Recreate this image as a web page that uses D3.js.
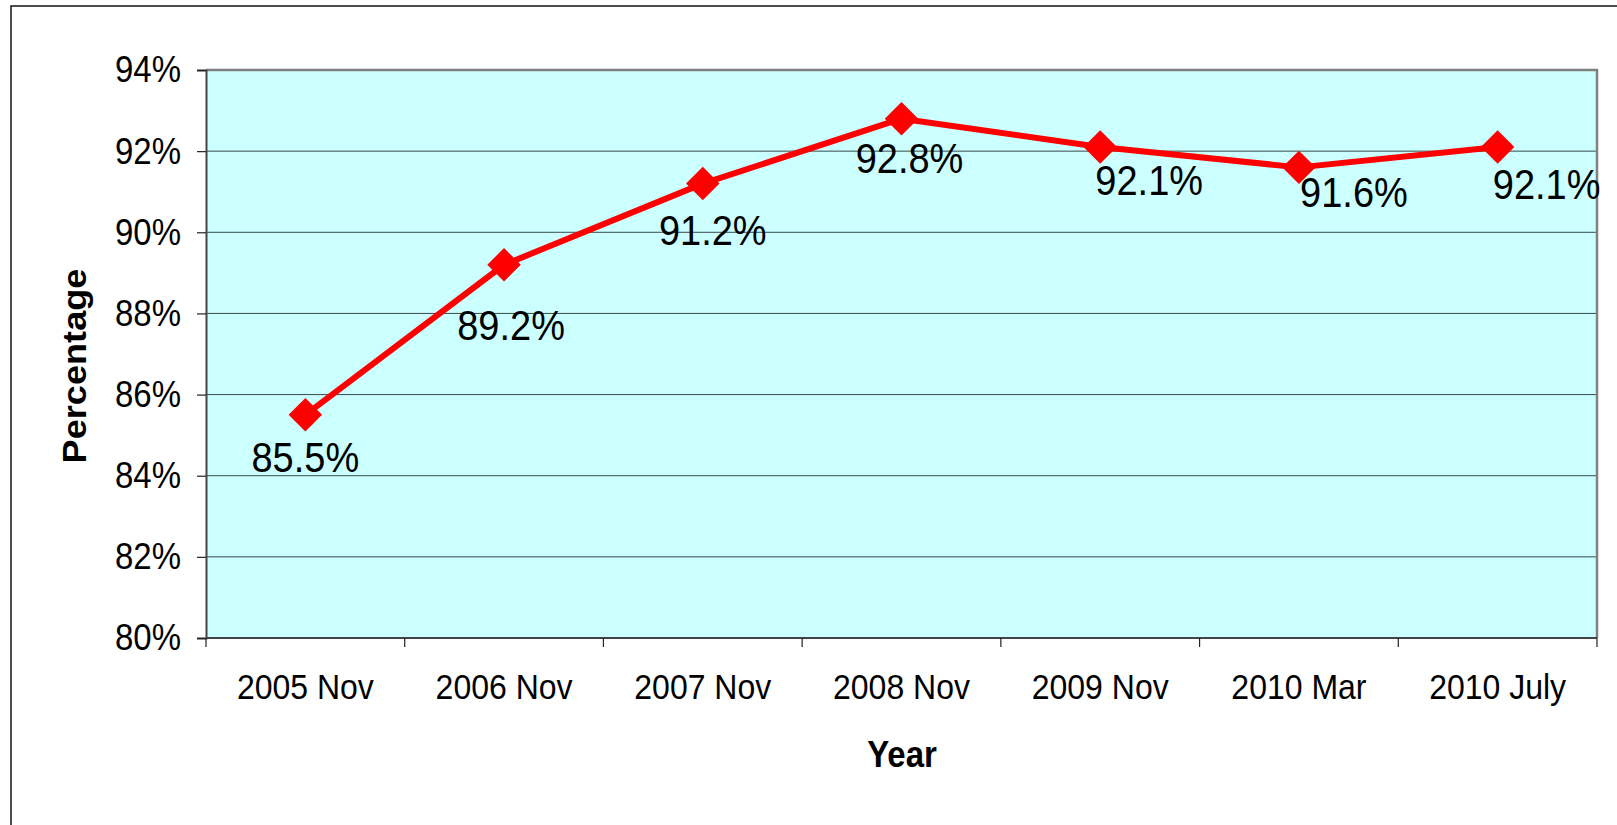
<!DOCTYPE html>
<html>
<head>
<meta charset="utf-8">
<script src="https://cdn.jsdelivr.net/npm/d3@7"></script>
<style>
  html, body { margin: 0; padding: 0; background: #ffffff; }
  svg { display: block; }
  text { font-family: "Liberation Sans", Arial, Helvetica, sans-serif; fill: #000; }
</style>
</head>
<body>
<svg id="chart" width="1617" height="825"></svg>
<script>
// ---- Data ----
const categories = ["2005 Nov", "2006 Nov", "2007 Nov", "2008 Nov", "2009 Nov", "2010 Mar", "2010 July"];
const values = [85.5, 89.2, 91.2, 92.8, 92.1, 91.6, 92.1];
const valueLabels = ["85.5%", "89.2%", "91.2%", "92.8%", "92.1%", "91.6%", "92.1%"];
const yTickValues = [80, 82, 84, 86, 88, 90, 92, 94];
const xTitle = "Year";
const yTitle = "Percentage";

// ---- Label placement (layout, pixels) ----
const labelDx = [0, 7, 10, 8, 49, 55, 49];
const labelDy = [57, 75, 61, 54, 48, 40, 52];

// ---- Layout ----
const plot = { left: 206, right: 1597, top: 70, bottom: 638 };
const TS = 1.1; // vertical stretch of the reference's text
const svg = d3.select("#chart");

// outer frame
svg.append("rect")
  .attr("x", 11).attr("y", 6)
  .attr("width", 1700).attr("height", 900)
  .attr("fill", "#fff").attr("stroke", "#222").attr("stroke-width", 1.6);

const x = d3.scaleBand().domain(categories).range([plot.left, plot.right]).paddingInner(0).paddingOuter(0);
const y = d3.scaleLinear().domain([80, 94]).range([plot.bottom, plot.top]);

// plot background
svg.append("rect")
  .attr("x", plot.left).attr("y", plot.top)
  .attr("width", plot.right - plot.left).attr("height", plot.bottom - plot.top)
  .attr("fill", "#CCFFFF");

// gridlines
svg.append("g").selectAll("line")
  .data(yTickValues.filter(v => v > 80 && v < 94))
  .join("line")
  .attr("x1", plot.left).attr("x2", plot.right)
  .attr("y1", d => y(d)).attr("y2", d => y(d))
  .attr("stroke", "#3a4a4a").attr("stroke-width", 1);

// plot border (top & right gray)
svg.append("path")
  .attr("d", `M${plot.left},${plot.top}H${plot.right}V${plot.bottom}`)
  .attr("fill", "none").attr("stroke", "#808080").attr("stroke-width", 2.5);

// Y axis
const yAxis = d3.axisLeft(y).tickValues(yTickValues).tickSize(9).tickPadding(16)
  .tickFormat(d => d + "%");
const gy = svg.append("g").attr("transform", `translate(${plot.left},0)`).call(yAxis);
gy.select(".domain").attr("stroke", "#444").attr("stroke-width", 2);
gy.selectAll(".tick line").attr("stroke", "#222").attr("stroke-width", 1.2);
gy.selectAll(".tick text")
  .attr("font-size", 33).attr("fill", "#000")
  .attr("font-family", "Liberation Sans, Arial, sans-serif")
  .attr("dy", "0.33em")
  .attr("transform", `scale(1,${TS})`);

// X axis (labels at band centers, ticks at band edges)
const xAxis = d3.axisBottom(x).tickSize(0).tickPadding(0);
const gx = svg.append("g").attr("transform", `translate(0,${plot.bottom})`).call(xAxis);
gx.select(".domain").remove();
gx.selectAll(".tick text")
  .attr("font-size", 32).attr("fill", "#000")
  .attr("font-family", "Liberation Sans, Arial, sans-serif")
  .attr("y", 61 / TS).attr("dy", 0)
  .attr("transform", `scale(1,${TS})`);

const edges = categories.map(c => x(c)).concat([x.range()[1]]);
svg.append("line")
  .attr("x1", plot.left).attr("x2", plot.right)
  .attr("y1", plot.bottom).attr("y2", plot.bottom)
  .attr("stroke", "#444").attr("stroke-width", 2);
svg.append("g").selectAll("line")
  .data(edges)
  .join("line")
  .attr("x1", d => d).attr("x2", d => d)
  .attr("y1", plot.bottom).attr("y2", plot.bottom + 9)
  .attr("stroke", "#222").attr("stroke-width", 1.2);

// Axis titles
svg.append("text")
  .attr("transform", `translate(902,767) scale(1,${TS})`)
  .attr("text-anchor", "middle")
  .attr("font-size", 33).attr("font-weight", "bold")
  .text(xTitle);

svg.append("text")
  .attr("transform", "translate(86,366) rotate(-90) scale(1.095,1)")
  .attr("text-anchor", "middle")
  .attr("font-size", 33).attr("font-weight", "bold")
  .text(yTitle);

// Line
const cx = (d, i) => x(categories[i]) + x.bandwidth() / 2;
const line = d3.line().x((d, i) => cx(d, i)).y(d => y(d));
svg.append("path")
  .datum(values)
  .attr("d", line)
  .attr("fill", "none")
  .attr("stroke", "#FF0000")
  .attr("stroke-width", 6)
  .attr("stroke-linejoin", "round");

// Markers (diamonds)
const diamond = d3.symbol().type(d3.symbolSquare).size(560);
svg.append("g").selectAll("path")
  .data(values)
  .join("path")
  .attr("d", diamond)
  .attr("transform", (d, i) => `translate(${cx(d, i)},${y(d)}) rotate(45)`)
  .attr("fill", "#FF0000");

// Data labels
svg.append("g").selectAll("text")
  .data(values)
  .join("text")
  .attr("transform", (d, i) => `translate(${cx(d, i) + labelDx[i]},${y(d) + labelDy[i]}) scale(1,${TS})`)
  .attr("text-anchor", "middle")
  .attr("font-size", 38)
  .text((d, i) => valueLabels[i]);
</script>
</body>
</html>
